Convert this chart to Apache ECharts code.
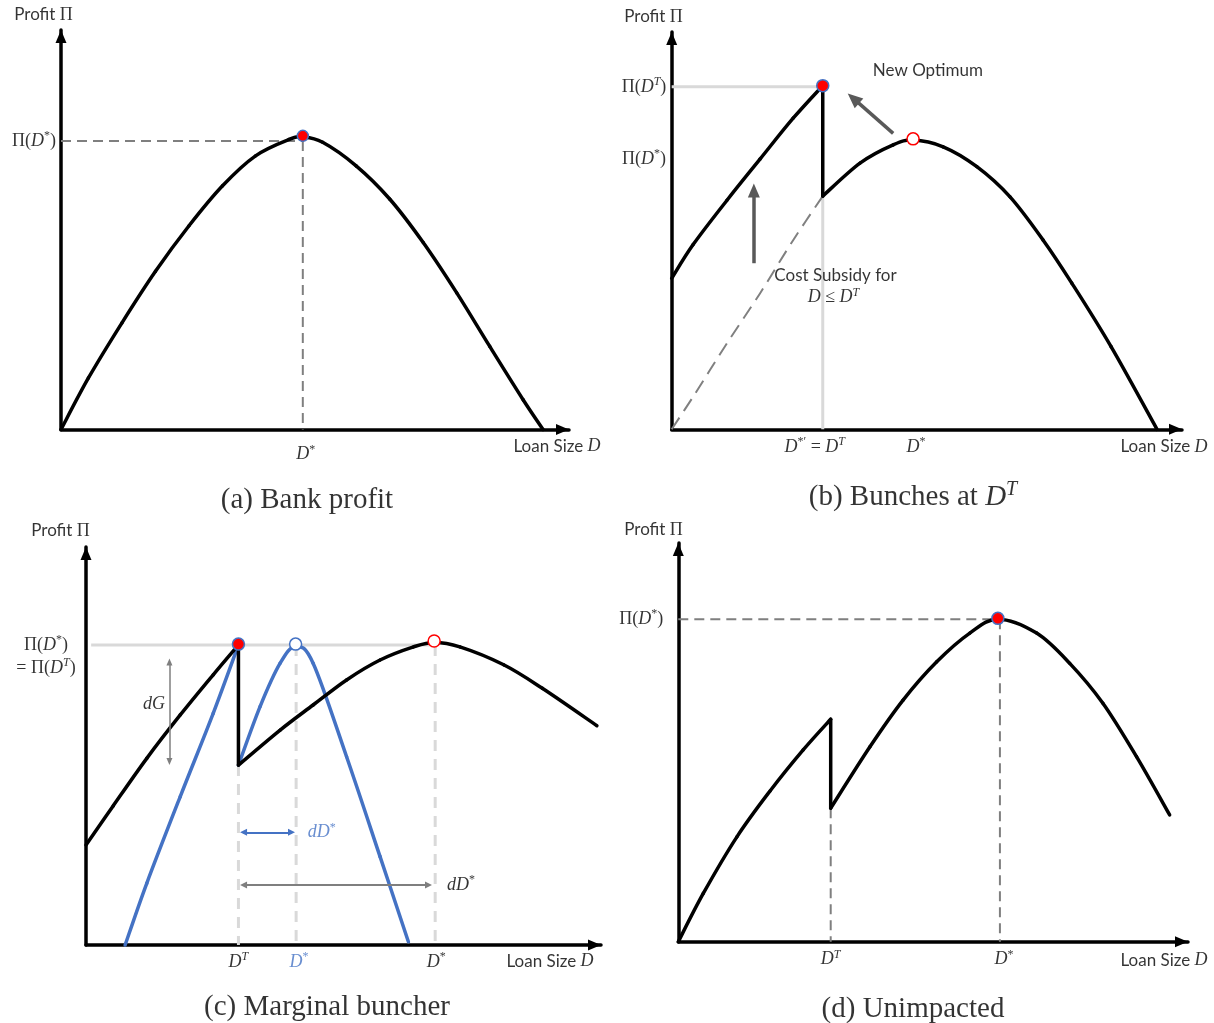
<!DOCTYPE html>
<html>
<head>
<meta charset="utf-8">
<script src="https://cdn.jsdelivr.net/npm/echarts@6/dist/echarts.min.js"></script>
<style>
html,body{margin:0;padding:0;background:#ffffff;}
#c{width:1214px;height:1023px;}
</style>
</head>
<body>
<div id="c"></div>
<script>
// ---------------- DATA (axis units: 0–100 along each drawn axis) ----------------
// (a) Bank profit
const aProfit = [[0,0],[5.4,12.9],[12.0,26.7],[18.6,39.6],[25.2,51.0],[31.8,61.0],[38.3,68.5],[44.9,72.6],[47.6,73.2],[51.5,71.9],[58.1,66.0],[64.7,57.7],[71.3,46.8],[77.9,34.2],[84.4,20.8],[91.0,7.4],[94.9,0]];
const aOptimum = [47.6, 73.5];
const aOptLevel = 72.2;

// (b) Bunches at D^T
const bSubsidized = [[0,38.0],[4.2,46.5],[10.8,57.6],[17.3,68.0],[23.8,78.3],[29.6,86.5]];
const bJump = [[29.6,86.5],[29.6,58.7]];
const bProfit = [[29.6,58.7],[36.9,67.0],[43.4,71.6],[47.3,72.8],[53.2,71.1],[59.8,66.1],[66.3,58.5],[72.8,47.6],[78.4,36.8],[86.1,20.8],[95.1,0]];
const bBase = [[0,0],[4.2,8.2],[10.8,21.6],[17.3,34.2],[23.8,47.6],[29.6,58.7]];
const bNewOptimum = [29.6, 86.5];
const bOldOptimum = [47.3, 73.1];
const bLevelDT = 86.2;
const bLevelDstar = 68.0;
const bArrowNew = [[43.4,74.5],[35.6,83.3]];
const bArrowUp = [[16.1,41.8],[16.1,60.1]];

// (c) Marginal buncher
const cSubsidized = [[0,25.1],[5.3,35.0],[11.8,46.9],[18.3,57.8],[24.7,67.9],[29.6,75.4]];
const cJump = [[29.6,75.4],[29.6,45.2]];
const cProfit = [[29.6,45.2],[37.7,54.0],[44.1,60.3],[50.6,66.6],[57.1,71.6],[63.6,74.9],[67.6,76.0],[72.6,74.9],[81.1,70.4],[88.6,64.5],[99.2,55.1]];
const cBlueLeft = [[7.6,0],[11.8,15.5],[18.3,37.3],[24.7,58.2],[29.6,75.4]];
const cBlueRight = [[29.6,45.2],[33.8,59.9],[37.7,70.8],[40.7,75.0],[44.1,70.8],[50.6,47.3],[57.1,22.2],[62.6,0.8]];
const cBunch = [29.6, 75.6];
const cBlueOptimum = [40.7, 75.6];
const cOldOptimum = [67.6, 76.4];
const cLevel = 75.4;
const cLevelFrom = 1.0;
const cDropX = [29.6, 40.8, 67.8];
const cDropTop = [45.2, 75.4, 75.4];
const cArrowDG = [[16.2,71.1],[16.2,46.1]];
const cArrowBlue = [[30.6,28.3],[39.9,28.3]];
const cArrowGray = [[30.6,15.1],[66.5,15.1]];

// (d) Unimpacted
const dLower = [[0,0],[4.9,12.1],[11.5,26.3],[18.0,37.8],[24.5,48.1],[29.9,55.8]];
const dJump = [[29.9,55.8],[29.9,33.5]];
const dProfit = [[29.9,33.5],[37.6,48.9],[44.1,60.6],[50.7,70.2],[57.2,77.4],[62.7,80.9],[70.3,77.4],[76.8,69.8],[83.3,59.8],[89.9,46.4],[96.4,31.8]];
const dOptimum = [62.7, 81.1];
const dLevel = 80.9;
const dOptX = 63.1;

// annotation anchors (axis units)
const bNoteNew = [50.2, 90.4];
const bNoteSub1 = [32.1, 38.8];
const bNoteSub2 = [31.7, 33.2];
const cNoteDG = [13.2, 60.6];
const cNoteBlue = [45.8, 28.3];
const cNoteGray = [72.8, 15.1];

// ---------------- LAYOUT ----------------
const GEOM = [
  {left:61,    top:30,  width:508,   height:399.5},
  {left:671.7, top:32,  width:510.3, height:397.3},
  {left:86,    top:547, width:515,   height:398},
  {left:678.3, top:543, width:509.7, height:398.7}
];
const SERIF = '"Liberation Serif", "DejaVu Serif", serif';
const SANS = 'Lato, "Open Sans", sans-serif';
const BLUE = '#4472c4';
const LW = 3.5;

function rich(color){
  return {
    s:{fontFamily:SANS,fontSize:17,color:color,lineHeight:22},
    m:{fontFamily:SERIF,fontSize:18,color:color,lineHeight:22},
    i:{fontFamily:SERIF,fontSize:18,fontStyle:'italic',color:color,lineHeight:22},
    p:{fontFamily:SERIF,fontSize:12,color:color,lineHeight:13,verticalAlign:'top'},
    pi:{fontFamily:SERIF,fontSize:12,fontStyle:'italic',color:color,lineHeight:13,verticalAlign:'top'},
    c:{fontFamily:SERIF,fontSize:29,color:color,lineHeight:34},
    ci:{fontFamily:SERIF,fontSize:29,fontStyle:'italic',color:color,lineHeight:34},
    cp:{fontFamily:SERIF,fontSize:20,fontStyle:'italic',color:color,lineHeight:20,verticalAlign:'top'}
  };
}
const RK = rich('#000');
const RB = rich(BLUE);

const T = {
  profit:'{s|Profit }{m|Π}',
  loan:'{s|Loan Size }{i|D}',
  Dstar:'{i|D}{p|*}',
  DT:'{i|D}{pi|T}',
  PiDstar:'{m|Π(}{i|D}{p|*}{m|)}',
  PiDT:'{m|Π(}{i|D}{pi|T}{m|)}',
  eqPiDT:'{m|= Π(}{i|D}{pi|T}{m|)}',
  DprimeDT:'{i|D}{p|*′}{m| = }{i|D}{pi|T}',
  newOpt:'{s|New Optimum}',
  sub1:'{s|Cost Subsidy for}',
  sub2:'{i|D}{m| ≤ }{i|D}{pi|T}',
  dG:'{i|dG}',
  dD:'{i|dD}{p|*}'
};

const series = [];
function line(g, data, o){
  o = o || {};
  series.push({type:'line', xAxisIndex:g, yAxisIndex:g, data:data, smooth:o.smooth||false,
    symbol:'none', showSymbol:false, silent:true, animation:false, clip:false, z:o.z||3,
    lineStyle:{color:o.color||'#000', width:o.width||LW, type:o.type||'solid', cap:o.cap||'round', join:'round'}});
}
// smooth curve through the data points (Catmull-Rom), positioned with the axes' own scales (api.coord)
function curve(g, data, color){
  series.push({type:'custom', coordinateSystem:'cartesian2d', xAxisIndex:g, yAxisIndex:g, data:data,
    silent:true, animation:false, clip:false, z:3,
    renderItem:function(params, api){
      if (params.dataIndex !== 0) return null;
      const P = data.map(function(d){ return api.coord(d); });
      const n = P.length;
      const children = [];
      for (let k = 0; k < n - 1; k++){
        const p0 = P[Math.max(k-1,0)], p1 = P[k], p2 = P[k+1], p3 = P[Math.min(k+2,n-1)];
        children.push({type:'bezierCurve', silent:true,
          shape:{x1:p1[0], y1:p1[1], x2:p2[0], y2:p2[1],
            cpx1:p1[0] + (p2[0]-p0[0])/6, cpy1:p1[1] + (p2[1]-p0[1])/6,
            cpx2:p2[0] - (p3[0]-p1[0])/6, cpy2:p2[1] - (p3[1]-p1[1])/6},
          style:{fill:null, stroke:color||'#000', lineWidth:LW, lineCap:'round', lineJoin:'round'}});
      }
      return {type:'group', children:children};
    }});
}
function dot(g, pt, fill, stroke, size){
  series.push({type:'scatter', xAxisIndex:g, yAxisIndex:g, data:[pt], symbol:'circle', symbolSize:size||11,
    silent:true, animation:false, clip:false, z:8,
    itemStyle:{color:fill, borderColor:stroke, borderWidth:1.5, opacity:1}});
}
function txt(g, pt, text, offset, r){
  series.push({type:'scatter', xAxisIndex:g, yAxisIndex:g, data:[pt], symbol:'circle', symbolSize:0,
    silent:true, animation:false, clip:false, z:9,
    label:{show:true, position:'inside', offset:offset||[0,0], formatter:text, rich:r||RK}});
}
function arrow(g, seg, color, width, syms, size){
  series.push({type:'line', xAxisIndex:g, yAxisIndex:g, data:seg, symbol:'none', silent:true, animation:false, clip:false,
    lineStyle:{opacity:0},
    markLine:{silent:true, animation:false, symbol:syms, symbolSize:size, label:{show:false},
      lineStyle:{color:color, width:width, type:'solid'}, emphasis:{disabled:true},
      data:[[{coord:seg[0]},{coord:seg[1]}]]}});
}

// ---- (a)
line(0, [[0,aOptLevel],[aOptimum[0],aOptLevel]], {color:'#7f7f7f', width:2, type:[10,6], cap:'butt', z:2});
line(0, [[aOptimum[0],aOptLevel],[aOptimum[0],0]], {color:'#7f7f7f', width:2, type:[10,6], cap:'butt', z:2});
curve(0, aProfit);
dot(0, aOptimum, '#ff0000', BLUE, 11);
txt(0, [0,100], T.profit, [-17.5,-15]);
txt(0, [100,0], T.loan, [-12,17]);
txt(0, [aOptimum[0],0], T.Dstar, [3,25]);
txt(0, [0,aOptLevel], T.PiDstar, [-27,0]);
txt(0, [0,0], '{c|(a) Bank profit}', [246,70.5]);

// ---- (b)
line(1, [[0,bLevelDT],[bNewOptimum[0],bLevelDT]], {color:'#d9d9d9', width:3, cap:'butt', z:1});
line(1, [[bJump[1][0],0],bJump[1]], {color:'#d9d9d9', width:3, cap:'butt', z:1});
line(1, bBase, {smooth:0.3, color:'#808080', width:2, type:[14,8], cap:'butt', z:2});
curve(1, bSubsidized);
line(1, bJump, {});
curve(1, bProfit);
arrow(1, bArrowNew, '#595959', 3.5, ['none','triangle'], [13,15]);
arrow(1, bArrowUp, '#595959', 3.5, ['none','triangle'], [12,14]);
dot(1, bNewOptimum, '#ff0000', BLUE, 12);
dot(1, bOldOptimum, '#ffffff', '#ff0000', 12);
txt(1, [0,100], T.profit, [-18.2,-15]);
txt(1, [100,0], T.loan, [-18,17.7]);
txt(1, [bJump[0][0],0], T.DprimeDT, [-8,17.7]);
txt(1, [bOldOptimum[0],0], T.Dstar, [3,17.7]);
txt(1, [0,bLevelDT], T.PiDT, [-27.7,0.5]);
txt(1, [0,bLevelDstar], T.PiDstar, [-27.7,0]);
txt(1, bNoteNew, T.newOpt);
txt(1, bNoteSub1, T.sub1);
txt(1, bNoteSub2, T.sub2);
txt(1, [0,0], '{c|(b) Bunches at }{ci|D}{cp|T}', [241.3,67.7]);

// ---- (c)
line(2, [[cLevelFrom,cLevel],[cDropX[2],cLevel]], {color:'#d9d9d9', width:3, cap:'butt', z:1});
cDropX.forEach(function(x,k){
  line(2, [[x,cDropTop[k]],[x,0]], {color:'#d9d9d9', width:3, type:[11,8], cap:'butt', z:1});
});
curve(2, cBlueLeft, BLUE);
curve(2, cBlueRight, BLUE);
curve(2, cSubsidized);
line(2, cJump, {});
curve(2, cProfit);
arrow(2, cArrowDG, '#7f7f7f', 1.5, ['triangle','triangle'], [6,7]);
arrow(2, cArrowBlue, BLUE, 2, ['triangle','triangle'], [7,7]);
arrow(2, cArrowGray, '#7f7f7f', 2, ['triangle','triangle'], [7,7]);
dot(2, cBunch, '#ff0000', BLUE, 12);
dot(2, cBlueOptimum, '#ffffff', BLUE, 12);
dot(2, cOldOptimum, '#ffffff', '#ff0000', 12);
txt(2, [0,100], T.profit, [-25.5,-16]);
txt(2, [100,0], T.loan, [-51,16.5]);
txt(2, [cDropX[0],0], T.DT, [0,17]);
txt(2, [cDropX[1],0], T.Dstar, [3,17], RB);
txt(2, [cDropX[2],0], T.Dstar, [1,17]);
txt(2, [0,cLevel], T.PiDstar, [-40,0]);
txt(2, [0,cLevel], T.eqPiDT, [-40,23]);
txt(2, cNoteDG, T.dG);
txt(2, cNoteBlue, T.dD, [0,0], RB);
txt(2, cNoteGray, T.dD);
txt(2, [0,0], '{c|(c) Marginal buncher}', [241,62]);

// ---- (d)
line(3, [[0,dLevel],[dOptX,dLevel]], {color:'#7f7f7f', width:2, type:[10,6], cap:'butt', z:2});
line(3, [[dOptX,dLevel],[dOptX,0]], {color:'#7f7f7f', width:2, type:[10,6], cap:'butt', z:2});
line(3, [dJump[1],[dJump[1][0],0]], {color:'#7f7f7f', width:2, type:[10,6], cap:'butt', z:2});
curve(3, dLower);
line(3, dJump, {});
curve(3, dProfit);
dot(3, dOptimum, '#ff0000', BLUE, 12);
txt(3, [0,100], T.profit, [-24.8,-13]);
txt(3, [100,0], T.loan, [-24,19]);
txt(3, [dJump[0][0],0], T.DT, [0,18]);
txt(3, [dOptX,0], T.Dstar, [4,18]);
txt(3, [0,dLevel], T.PiDstar, [-37,0]);
txt(3, [0,0], '{c|(d) Unimpacted}', [234.7,67.3]);

// ---------------- AXES ----------------
function axis(g){
  return {type:'value', gridIndex:g, min:0, max:100, silent:true,
    axisTick:{show:false}, axisLabel:{show:false}, splitLine:{show:false},
    axisLine:{show:true, onZero:false, symbol:['none','triangle'], symbolSize:[11,13], symbolOffset:[0,-6.5],
      lineStyle:{color:'#000', width:LW}}};
}
const option = {
  backgroundColor:'#ffffff',
  animation:false,
  grid: GEOM.map(function(g){ return {left:g.left, top:g.top, width:g.width, height:g.height, containLabel:false, outerBoundsMode:'none'}; }),
  xAxis: [0,1,2,3].map(axis),
  yAxis: [0,1,2,3].map(axis),
  series: series
};
const chart = echarts.init(document.getElementById('c'), null, {renderer:'canvas'});
chart.setOption(option);
</script>
</body>
</html>
